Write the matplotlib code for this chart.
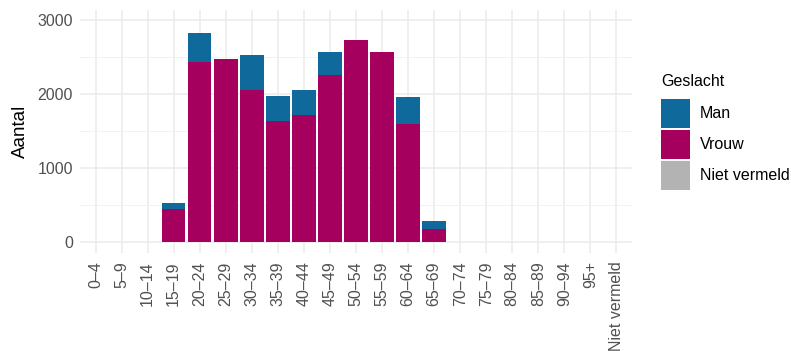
import numpy as np
import matplotlib
matplotlib.use("Agg")
import matplotlib.pyplot as plt
from matplotlib.patches import Rectangle

plt.rcParams['font.family'] = ['Liberation Sans', 'DejaVu Sans']

# data
leeftijd = ["0\u20134", "5\u20139", "10\u201314", "15\u201319", "20\u201324", "25\u201329",
            "30\u201334", "35\u201339", "40\u201344", "45\u201349", "50\u201354", "55\u201359",
            "60\u201364", "65\u201369", "70\u201374", "75\u201379", "80\u201384", "85\u201389",
            "90\u201394", "95+", "Niet vermeld"]
vrouw = [0, 0, 0, 450, 2428, 2477, 2054, 1631, 1716, 2257, 2725, 2572, 1595, 180,
         0, 0, 0, 0, 0, 0, 0]
man = [0, 0, 0, 73, 401, 0, 469, 342, 334, 311, 0, 0, 360, 108,
       0, 0, 0, 0, 0, 0, 0]
niet_vermeld = [0] * 21
geslacht = ["Man", "Vrouw", "Niet vermeld"]

kleur_man = "#10699B"
kleur_vrouw = "#A6005F"
kleur_nv = "#B3B3B3"
kleuren = [kleur_man, kleur_vrouw, kleur_nv]

W, H = 791, 351
fig = plt.figure(figsize=(W / 100, H / 100), dpi=100)
ax = fig.add_axes([80 / W, (H - 253) / H, (632 - 80) / W, (253 - 10) / H])

x = np.arange(len(leeftijd))
nv = np.array(niet_vermeld)
vr = np.array(vrouw)
mn = np.array(man)
ax.bar(x, nv, width=0.9, color=kleur_nv, zorder=2)
ax.bar(x, vr, width=0.9, bottom=nv, color=kleur_vrouw, zorder=2)
ax.bar(x, mn, width=0.9, bottom=nv + vr, color=kleur_man, zorder=2)

ax.set_xlim(-0.6, len(leeftijd) - 0.4)
ax.set_ylim(-150, 3135)
ax.set_xticks(x)
ax.set_xticklabels(leeftijd, rotation=90, ha="center", va="top")
ax.set_yticks([0, 1000, 2000, 3000])
ax.set_yticks([500, 1500, 2500], minor=True)
ax.tick_params(axis="both", which="both", length=0, labelsize=11.5, labelcolor="#505050")
ax.tick_params(axis="x", pad=6)
ax.tick_params(axis="y", pad=5)

ax.grid(True, which="major", color="#EBEBEB", linewidth=1.1, zorder=0)
ax.grid(True, which="minor", axis="y", color="#F2F2F2", linewidth=0.7, zorder=0)
for s in ax.spines.values():
    s.set_visible(False)

ax.set_ylabel("Aantal", fontsize=13.5, color="black", labelpad=6)

# legend, placed by hand
fig.text(661 / W, 1 - 82 / H, "Geslacht", fontsize=11.5, va="center", ha="left")
tops = [99, 130, 161]
for top, lab, kl in zip(tops, geslacht, kleuren):
    fig.patches.append(Rectangle((661 / W, 1 - (top + 29) / H), 29 / W, 29 / H,
                                 transform=fig.transFigure, facecolor=kl, edgecolor="none"))
    fig.text(700 / W, 1 - (top + 14.5) / H, lab, fontsize=11.5, va="center", ha="left")

fig.savefig("out.png", dpi=100)
